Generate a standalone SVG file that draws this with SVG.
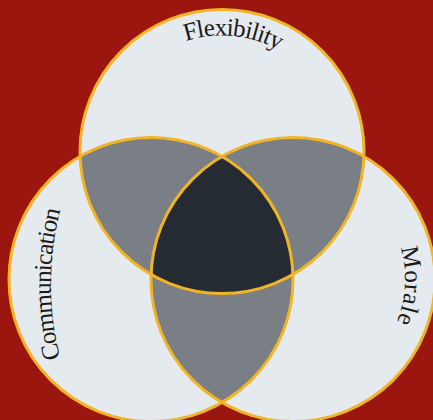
<svg xmlns="http://www.w3.org/2000/svg" width="433" height="420" viewBox="0 0 433 420">
<defs>
<style>
.bg{fill:#9c1610}
.base{fill:#e5eaee}
.pair{fill:#7a7e85}
.triple{fill:#252b33}
.ring{fill:none;stroke:#f2b427;stroke-width:3}
.lbl{font-family:"Liberation Serif","Times New Roman",serif;font-size:25px;fill:#1b1b1b}
</style>
<clipPath id="clipA"><circle cx="222" cy="151.5" r="142"/></clipPath>
<clipPath id="clipB"><circle cx="151" cy="279.5" r="142"/></clipPath>
<path id="arcA" d="M121.5,93.5 A116,116 0 0 1 331.7,113.7"/>
<path id="arcB" d="M91.2,434 A300,300 0 0 1 91.2,134"/>
<path id="arcC" d="M349,182.5 A112,112 0 0 1 338.6,381.8"/>
</defs>
<rect class="bg" x="0" y="0" width="433" height="420"/>
<g id="flexibility">
<circle class="base" cx="222" cy="151.5" r="142"/>
</g>
<g id="communication">
<circle class="base" cx="151" cy="279.5" r="142"/>
</g>
<g id="morale">
<circle class="base" cx="293" cy="279.5" r="142"/>
</g>
<g id="overlaps">
<circle class="pair" cx="151" cy="279.5" r="142" clip-path="url(#clipA)"/>
<circle class="pair" cx="293" cy="279.5" r="142" clip-path="url(#clipA)"/>
<circle class="pair" cx="293" cy="279.5" r="142" clip-path="url(#clipB)"/>
<g clip-path="url(#clipB)"><circle class="triple" cx="293" cy="279.5" r="142" clip-path="url(#clipA)"/></g>
</g>
<g id="outlines">
<circle class="ring" cx="222" cy="151.5" r="142"/>
<circle class="ring" cx="151" cy="279.5" r="142"/>
<circle class="ring" cx="293" cy="279.5" r="142"/>
</g>
<g id="labels">
<text class="lbl"><textPath href="#arcA" startOffset="50%" text-anchor="middle" textLength="96" lengthAdjust="spacing">Flexibility</textPath></text>
<text class="lbl"><textPath href="#arcB" startOffset="50%" text-anchor="middle" textLength="150" lengthAdjust="spacing">Communication</textPath></text>
<text class="lbl"><textPath href="#arcC" startOffset="50%" text-anchor="middle" textLength="76" lengthAdjust="spacing">Morale</textPath></text>
</g>
</svg>
